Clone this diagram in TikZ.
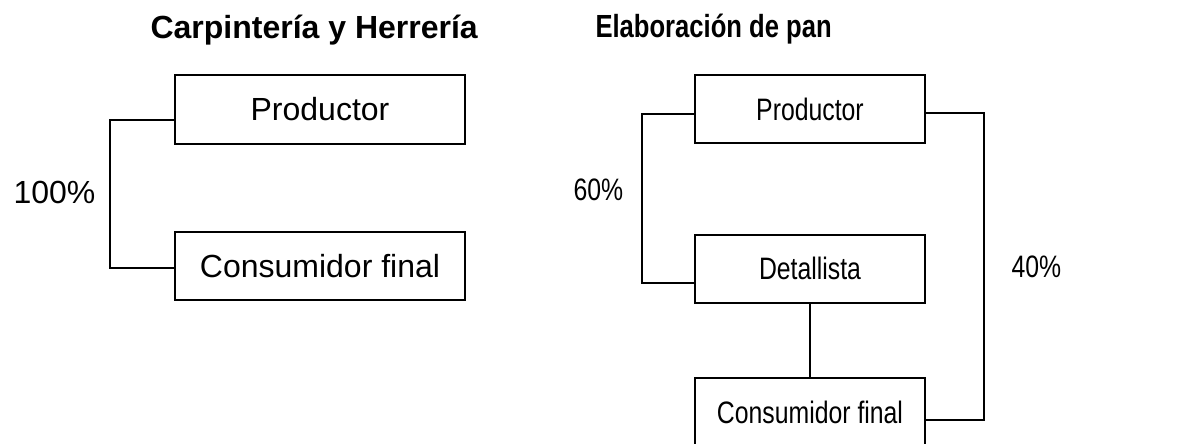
\documentclass[tikz,border=0pt]{standalone}
\usepackage{fontspec}
\setmainfont{Liberation Sans}
\newfontfamily\narrowfont{Liberation Sans}[FakeStretch=0.8]
\usepackage{tikz}

\begin{document}
\begin{tikzpicture}[x=1pt,y=-1pt,
		box/.style={draw,line width=2pt,inner sep=0pt,minimum height=68pt},
		every node/.style={font=\fontsize{32}{38}\selectfont},
		narrow/.style={font=\fontsize{31}{38}\selectfont\narrowfont},
		link/.style={line width=2pt}]
	\useasboundingbox (0,0) rectangle (1197,444);
	
	% Titles
	\node[anchor=base west,font=\fontsize{32}{38}\selectfont\bfseries] (T1) at (147,39) {Carpintería y Herrería};
	\node[anchor=base west,font=\fontsize{32}{38}\selectfont\narrowfont\bfseries] (T2) at (592,38) {Elaboración de pan};
	
	% Define the boxes
	\node[box,minimum width=290pt] (P1) at (320,109.5) {Productor};
	\node[box,minimum width=290pt] (C1) at (320,266) {Consumidor final};
	\node[box,narrow,minimum width=230pt] (P2) at (810,109) {Productor};
	\node[box,narrow,minimum width=230pt] (D2) at (810,268.5) {Detallista};
	\node[box,narrow,minimum width=230pt] (C2) at (810,412) {Consumidor final};
	
	% Draw the routes
	\draw[link] ([yshift=-10pt]P1.west) -- ++(-64,0) |- ([yshift=-2pt]C1.west);
	\draw[link] ([yshift=-5pt]P2.west) -- ++(-52,0) |- ([yshift=-14.5pt]D2.west);
	\draw[link] ([yshift=-4pt]P2.east) -- ++(58,0) |- ([yshift=-7.5pt]C2.east);
	\draw[link] (D2.south) -- (C2.north);
	
	% Shares
	\node[anchor=base west] (L1) at (10,203) {100\%};
	\node[anchor=base west,narrow] (L2) at (570,200) {60\%};
	\node[anchor=base west,narrow] (L3) at (1008,277) {40\%};
\end{tikzpicture}
\end{document}
